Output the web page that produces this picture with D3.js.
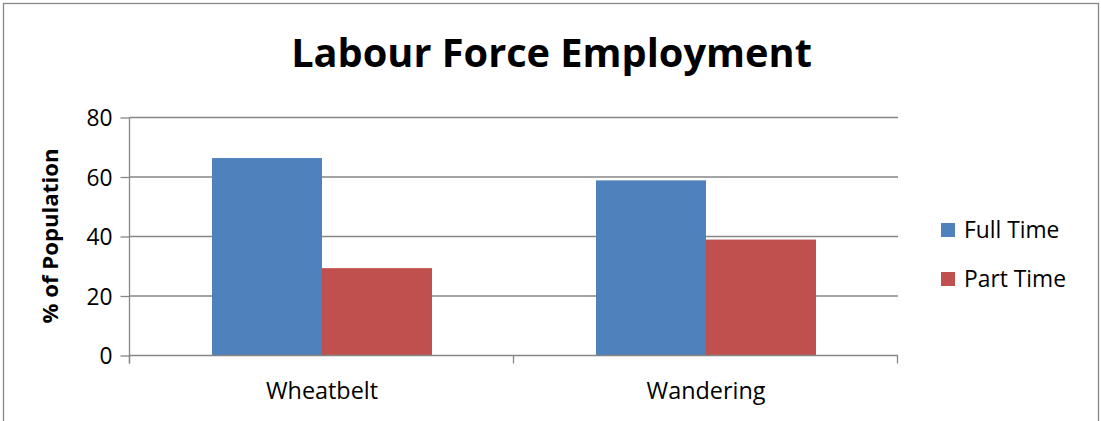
<!DOCTYPE html>
<html>
<head>
<meta charset="utf-8">
<script src="https://cdn.jsdelivr.net/npm/d3@7"></script>
<style>
  html, body { margin: 0; padding: 0; background: #fff; }
  svg { display: block; }
  text { font-family: "Open Sans", "Noto Sans", sans-serif; fill: #000; }
</style>
</head>
<body>
<svg id="chart" width="1101" height="421"></svg>
<script>
const title = "Labour Force Employment";
const yAxisTitle = "% of Population";
const categories = ["Wheatbelt", "Wandering"];
const seriesNames = ["Full Time", "Part Time"];
const fullTime = [66.2, 58.7];
const partTime = [29.2, 38.8];
const yTicks = [0, 20, 40, 60, 80];
const colors = ["#4F81BD", "#C0504D"];

const seriesValues = [fullTime, partTime];
const svg = d3.select("#chart");
const plot = { left: 130, right: 898, top: 117, bottom: 355 };
const gridColor = "#868686";

// outer border
svg.append("rect")
  .attr("x", 3.5).attr("y", 3.5).attr("width", 1095).attr("height", 440)
  .attr("fill", "#fff").attr("stroke", gridColor).attr("stroke-width", 1.3);

const x0 = d3.scaleBand().domain(categories)
  .range([plot.left, plot.right]).paddingInner(0.4271).paddingOuter(0.4271 / 2);
const x1 = d3.scaleBand().domain(seriesNames).range([0, x0.bandwidth()]).padding(0);
const y = d3.scaleLinear().domain([0, 80]).range([plot.bottom, plot.top]);

// gridlines
svg.append("g").selectAll("line").data(yTicks.filter(d => d > 0)).join("line")
  .attr("x1", plot.left).attr("x2", plot.right)
  .attr("y1", d => y(d) + 0.5).attr("y2", d => y(d) + 0.5)
  .attr("stroke", gridColor).attr("stroke-width", 1.3);

// bars
const groups = svg.append("g").selectAll("g").data(categories).join("g")
  .attr("transform", c => `translate(${x0(c)},0)`);
groups.selectAll("rect")
  .data((c, i) => seriesNames.map((s, j) => ({ s, v: seriesValues[j][i], j })))
  .join("rect")
  .attr("x", d => x1(d.s)).attr("width", x1.bandwidth())
  .attr("y", d => y(d.v)).attr("height", d => y(0) - y(d.v))
  .attr("fill", d => colors[d.j]);

// y axis
const yAxis = d3.axisLeft(y).tickValues(yTicks).tickSize(9).tickPadding(8);
const gy = svg.append("g").attr("transform", `translate(${plot.left - 0.5},0.5)`).call(yAxis);
gy.select(".domain").attr("stroke", gridColor).attr("stroke-width", 1.3)
  .attr("d", `M0,${plot.top - 0.5}V${plot.bottom + 8}`);
gy.selectAll(".tick line").attr("stroke", gridColor).attr("stroke-width", 1.3);
gy.selectAll(".tick text").attr("font-family", null).attr("dy", "0.36em");

// x axis
const xAxis = d3.axisBottom(x0).tickSize(0).tickPadding(0);
const gx = svg.append("g").attr("transform", `translate(0,${plot.bottom + 0.5})`).call(xAxis);
gx.select(".domain").attr("stroke", gridColor).attr("stroke-width", 1.3)
  .attr("d", `M${plot.left - 0.5},0H${plot.right}`);
gx.selectAll(".tick text").attr("font-family", null).attr("dy", null).attr("y", 43);
// boundary ticks
const step = x0.step();
const bounds = d3.range(categories.length + 1).map(i => x0(categories[0]) - x0.paddingOuter() * step + i * step);
gx.append("g").selectAll("line").data(bounds).join("line")
  .attr("x1", d => Math.round(d) - 0.5).attr("x2", d => Math.round(d) - 0.5)
  .attr("y1", 0).attr("y2", 8)
  .attr("stroke", gridColor).attr("stroke-width", 1.3);

// legend
const leg = svg.append("g").selectAll("g").data(seriesNames).join("g")
  .attr("transform", (d, i) => `translate(941,${223 + i * 49})`);
leg.append("rect").attr("width", 14).attr("height", 14).attr("fill", (d, i) => colors[i]);
leg.append("text").attr("x", 23).attr("y", 15).text(d => d);

// title
const t = svg.append("text").attr("x", 551.5).attr("y", 67)
  .attr("text-anchor", "middle").attr("font-weight", "bold").text(title);

// y axis title
const yt = svg.append("text")
  .attr("transform", `translate(58,${(plot.top + plot.bottom) / 2}) rotate(-90)`)
  .attr("text-anchor", "middle").attr("font-weight", "bold").text(yAxisTitle);

// font sizing to match measured widths
function measure(str, base, weight) {
  const p = svg.append("text").attr("font-size", base).attr("font-weight", weight || null).text(str);
  const w = p.node().getComputedTextLength();
  p.remove();
  return w;
}
function sizeFor(str, target, weight) { return 20 * target / measure(str, 20, weight); }

t.attr("font-size", sizeFor(title, 521, "bold"));
yt.attr("font-size", sizeFor(yAxisTitle, 175, "bold"));
const catFs = sizeFor(categories[1], 119);
const tickFs = sizeFor("80", 26);
const legFs = sizeFor(seriesNames[1], 102);
gx.attr("font-size", catFs);
gx.selectAll(".tick text").attr("font-size", catFs).attr("fill", "#000");
gy.attr("font-size", tickFs);
gy.selectAll(".tick text").attr("font-size", tickFs).attr("fill", "#000");
leg.selectAll("text").attr("font-size", legFs);
</script>
</body>
</html>
